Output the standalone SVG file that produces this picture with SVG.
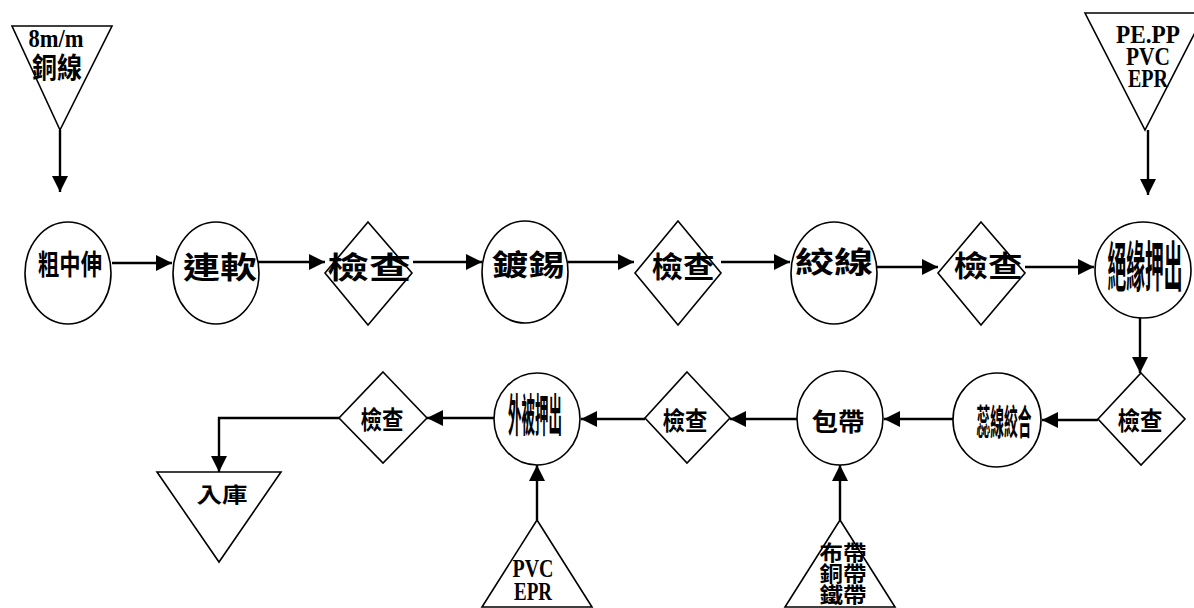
<svg xmlns="http://www.w3.org/2000/svg" width="1194" height="608" viewBox="0 0 1194 608">
<style>
.s{fill:#fff;stroke:#000;stroke-width:1.6}
.c{fill:none;stroke:#000;stroke-width:2.4}
.cj{font-family:"Noto Sans CJK TC","Noto Sans CJK SC",sans-serif;font-weight:bold;fill:#000;text-anchor:middle}
.lt{font-family:"Liberation Serif",serif;font-weight:bold;fill:#000;text-anchor:middle}
</style>
<defs>
<marker id="ah" markerUnits="userSpaceOnUse" markerWidth="16" markerHeight="16" refX="16" refY="8" orient="auto" viewBox="0 0 16 16">
<path d="M0,0 L16,8 L0,16 z" fill="#000"/>
</marker>
</defs>
<rect width="1194" height="608" fill="#fff"/>

<g id="connectors" class="c" marker-end="url(#ah)">
<line x1="60" y1="130" x2="60" y2="192"/>
<line x1="1148" y1="130" x2="1148" y2="195"/>
<line x1="112" y1="263" x2="172" y2="263"/>
<line x1="250" y1="262" x2="325" y2="262"/>
<line x1="413" y1="262" x2="482" y2="262"/>
<line x1="568" y1="262" x2="634" y2="262"/>
<line x1="721" y1="262" x2="790" y2="262"/>
<line x1="877" y1="267" x2="938" y2="267"/>
<line x1="1025" y1="267" x2="1094" y2="267"/>
<line x1="1140" y1="317" x2="1140" y2="373"/>
<line x1="1098" y1="420" x2="1042" y2="420"/>
<line x1="953" y1="419" x2="884" y2="419"/>
<line x1="797" y1="419" x2="730" y2="419"/>
<line x1="645" y1="419" x2="581" y2="419"/>
<line x1="494" y1="418" x2="427" y2="418"/>
<polyline points="339,418 219,418 219,472"/>
<line x1="537" y1="520" x2="537" y2="465"/>
<line x1="840" y1="520" x2="840" y2="465"/>
</g>

<g id="src-copper">
<polygon class="s" points="12,26 112,26 60,130"/>
<text class="lt" x="56" y="47" font-size="25" textLength="55" lengthAdjust="spacingAndGlyphs">8m/m</text>
<text class="cj" x="57" y="78" font-size="28" textLength="50" lengthAdjust="spacingAndGlyphs">銅線</text>
</g>

<g id="src-insul">
<polygon class="s" points="1085,13 1205,13 1145,130"/>
<text class="lt" x="1148" y="43" font-size="25" textLength="64" lengthAdjust="spacingAndGlyphs">PE.PP</text>
<text class="lt" x="1148" y="65" font-size="25" textLength="44" lengthAdjust="spacingAndGlyphs">PVC</text>
<text class="lt" x="1148" y="87" font-size="25" textLength="40" lengthAdjust="spacingAndGlyphs">EPR</text>
</g>

<g id="n1">
<ellipse class="s" cx="68" cy="273" rx="43" ry="51"/>
<text class="cj" x="70" y="275" font-size="28" textLength="64" lengthAdjust="spacingAndGlyphs">粗中伸</text>
</g>
<g id="n2">
<ellipse class="s" cx="216" cy="273" rx="43" ry="51"/>
<text class="cj" x="220" y="278" font-size="30" textLength="74" lengthAdjust="spacingAndGlyphs">連軟</text>
</g>
<g id="n3">
<polygon class="s" points="368,222 412,273 368,325 325,273"/>
<text class="cj" x="369" y="278" font-size="30" textLength="84" lengthAdjust="spacingAndGlyphs">檢查</text>
</g>
<g id="n4">
<ellipse class="s" cx="525" cy="272" rx="43" ry="51"/>
<text class="cj" x="528" y="276" font-size="29" textLength="73" lengthAdjust="spacingAndGlyphs">鍍錫</text>
</g>
<g id="n5">
<polygon class="s" points="678,221 721,273 678,325 635,273"/>
<text class="cj" x="683" y="278" font-size="29" textLength="63" lengthAdjust="spacingAndGlyphs">檢查</text>
</g>
<g id="n6">
<ellipse class="s" cx="834" cy="273" rx="43" ry="51"/>
<text class="cj" x="834" y="273" font-size="29" textLength="78" lengthAdjust="spacingAndGlyphs">絞線</text>
</g>
<g id="n7">
<polygon class="s" points="981,222 1025,273 981,325 938,273"/>
<text class="cj" x="988" y="277" font-size="29" textLength="69" lengthAdjust="spacingAndGlyphs">檢查</text>
</g>
<g id="n8">
<ellipse class="s" cx="1143" cy="270" rx="48" ry="48"/>
<text class="cj" x="1145" y="287" font-size="54" textLength="75" lengthAdjust="spacingAndGlyphs">絕緣押出</text>
</g>
<g id="n9">
<polygon class="s" points="1141,373 1185,419 1141,465 1098,419"/>
<text class="cj" x="1140" y="430" font-size="25" textLength="45" lengthAdjust="spacingAndGlyphs">檢查</text>
</g>
<g id="n10">
<ellipse class="s" cx="997" cy="420" rx="44" ry="47"/>
<text class="cj" x="1004" y="435" font-size="35" textLength="55" lengthAdjust="spacingAndGlyphs">蕊線絞合</text>
</g>
<g id="n11">
<ellipse class="s" cx="840" cy="418" rx="43" ry="47"/>
<text class="cj" x="838" y="431" font-size="25" textLength="53" lengthAdjust="spacingAndGlyphs">包帶</text>
</g>
<g id="n12">
<polygon class="s" points="687,372 730,418 687,463 645,418"/>
<text class="cj" x="685" y="430" font-size="25" textLength="45" lengthAdjust="spacingAndGlyphs">檢查</text>
</g>
<g id="n13">
<ellipse class="s" cx="537" cy="419" rx="43" ry="46"/>
<text class="cj" x="535" y="432" font-size="45" textLength="54" lengthAdjust="spacingAndGlyphs">外被押出</text>
</g>
<g id="n14">
<polygon class="s" points="383,372 427,418 383,463 339,418"/>
<text class="cj" x="382" y="429" font-size="25" textLength="43" lengthAdjust="spacingAndGlyphs">檢查</text>
</g>
<g id="n15">
<polygon class="s" points="157,472 281,472 219,562"/>
<text class="cj" x="222" y="502" font-size="21" textLength="51" lengthAdjust="spacingAndGlyphs">入庫</text>
</g>

<g id="src-pvc">
<polygon class="s" points="537,520 592,607 482,607"/>
<text class="lt" x="533" y="577" font-size="25" textLength="41" lengthAdjust="spacingAndGlyphs">PVC</text>
<text class="lt" x="533" y="600" font-size="25" textLength="38" lengthAdjust="spacingAndGlyphs">EPR</text>
</g>
<g id="src-tape">
<polygon class="s" points="840,520 895,607 785,607"/>
<text class="cj" x="843" y="560" font-size="21" textLength="47" lengthAdjust="spacingAndGlyphs">布帶</text>
<text class="cj" x="843" y="581" font-size="21" textLength="47" lengthAdjust="spacingAndGlyphs">銅帶</text>
<text class="cj" x="843" y="602" font-size="21" textLength="47" lengthAdjust="spacingAndGlyphs">鐵帶</text>
</g>
</svg>
